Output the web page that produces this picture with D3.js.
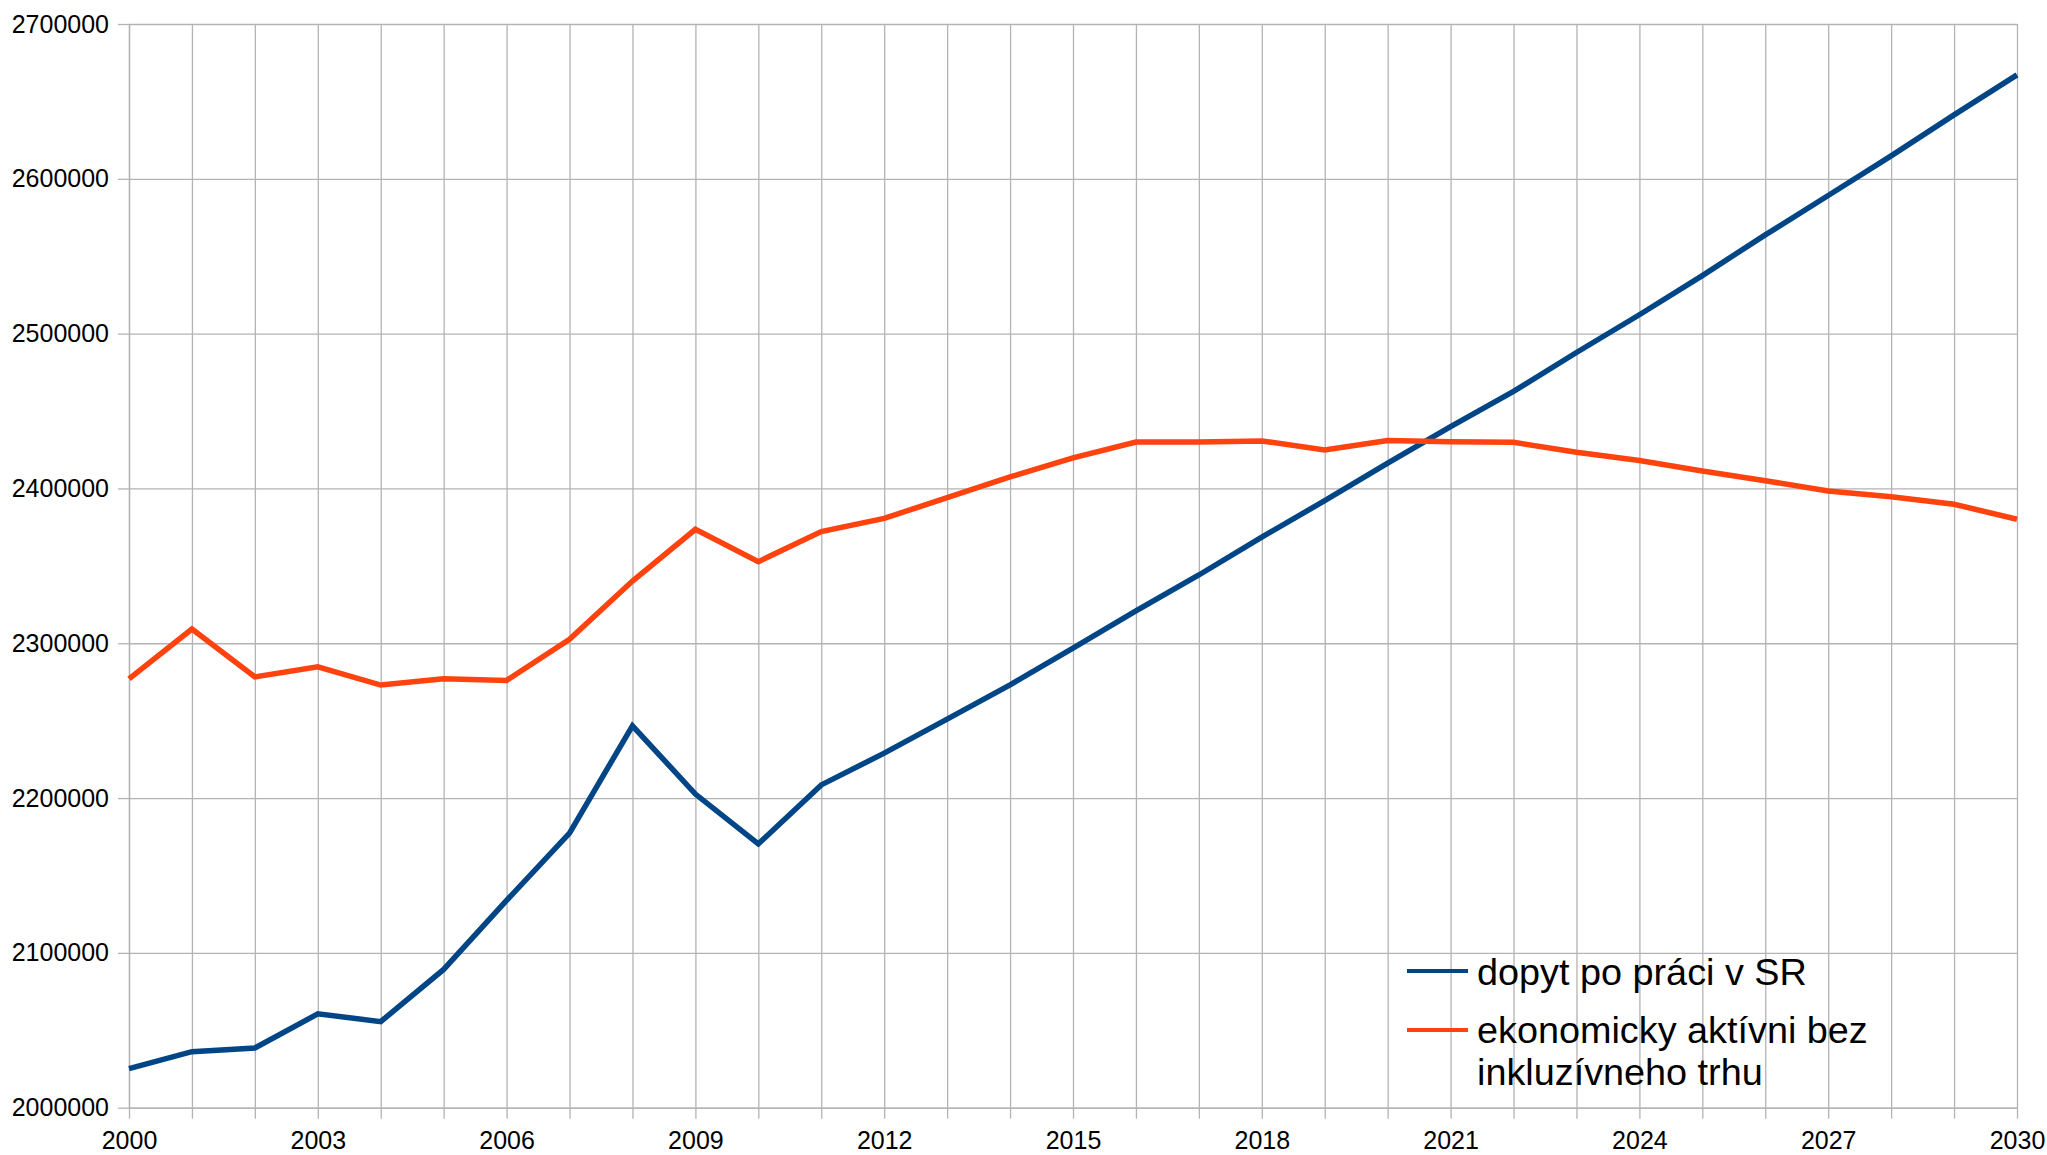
<!DOCTYPE html>
<html>
<head>
<meta charset="utf-8">
<script src="https://cdn.jsdelivr.net/npm/d3@7"></script>
<style>
  html, body { margin: 0; padding: 0; background: #ffffff; }
  svg { display: block; }
  text { font-family: "Liberation Sans", Arial, sans-serif; fill: #000; }
</style>
</head>
<body>
<svg id="chart" width="2047" height="1155"></svg>
<script>
// ---- data ----
const years = [2000, 2001, 2002, 2003, 2004, 2005, 2006, 2007, 2008, 2009, 2010,
               2011, 2012, 2013, 2014, 2015, 2016, 2017, 2018, 2019, 2020,
               2021, 2022, 2023, 2024, 2025, 2026, 2027, 2028, 2029, 2030];
const xTickLabels = [2000, 2003, 2006, 2009, 2012, 2015, 2018, 2021, 2024, 2027, 2030];
const yTicks = [2000000, 2100000, 2200000, 2300000, 2400000, 2500000, 2600000, 2700000];

const seriesNames = ["dopyt po práci v SR", "ekonomicky aktívni bez inkluzívneho trhu"];
const demand = [2025300, 2036200, 2038600, 2060600, 2055600, 2089300, 2133900, 2177400,
                2246700, 2202600, 2170400, 2208500, 2229000, 2251000, 2273100, 2296900,
                2320900, 2344100, 2368600, 2392100, 2416400, 2439900, 2462700, 2487800,
                2512200, 2537500, 2563800, 2589200, 2614800, 2641300, 2667100];
const active = [2277000, 2309200, 2278300, 2284800, 2273000, 2277000, 2276000, 2302600,
                2340200, 2373600, 2352700, 2372100, 2380700, 2394000, 2407400, 2419700,
                2430000, 2430000, 2430700, 2424900, 2431000, 2430200, 2429800, 2423400,
                2418000, 2411300, 2405000, 2398400, 2394700, 2389800, 2380100];
const colors = ["#004586", "#ff420e"];

(function () {
// ---- layout ----
const svg = d3.select("#chart");
const mLeft = 129, mRight = 2017, mTop = 24, mBottom = 1107.7;
const x = d3.scaleLinear().domain([2000, 2030]).range([mLeft, mRight]);
const y = d3.scaleLinear().domain([2000000, 2700000]).range([mBottom, mTop]);
const gridColor = "#b3b3b3";
const fontFam = '"Liberation Sans", Arial, sans-serif';

// vertical grid
svg.append("g")
  .attr("transform", `translate(0,${mBottom})`)
  .call(d3.axisBottom(x).tickValues(years).tickSize(-(mBottom - mTop)).tickFormat(""))
  .call(g => g.select(".domain").remove())
  .call(g => g.selectAll("line").attr("stroke", gridColor).attr("stroke-width", 1.3));

// horizontal grid
svg.append("g")
  .attr("transform", `translate(${mLeft},0)`)
  .call(d3.axisLeft(y).tickValues(yTicks).tickSize(-(mRight - mLeft)).tickFormat(""))
  .call(g => g.select(".domain").remove())
  .call(g => g.selectAll("line").attr("stroke", gridColor).attr("stroke-width", 1.3));

// x axis
svg.append("g")
  .attr("transform", `translate(0,${mBottom})`)
  .call(d3.axisBottom(x).tickValues(years).tickSizeInner(11).tickSizeOuter(0).tickPadding(13)
        .tickFormat(d => xTickLabels.includes(d) ? String(d) : ""))
  .call(g => g.select(".domain").attr("stroke", gridColor).attr("stroke-width", 1.3))
  .call(g => g.selectAll("line").attr("stroke", gridColor).attr("stroke-width", 1.3))
  .call(g => g.selectAll("text").attr("font-size", 25).attr("fill", "#000")
        .style("font-family", fontFam));

// y axis
svg.append("g")
  .attr("transform", `translate(${mLeft},0)`)
  .call(d3.axisLeft(y).tickValues(yTicks).tickSizeInner(11).tickSizeOuter(0).tickPadding(9)
        .tickFormat(d => String(d)))
  .call(g => g.select(".domain").attr("stroke", gridColor).attr("stroke-width", 1.3))
  .call(g => g.selectAll("line").attr("stroke", gridColor).attr("stroke-width", 1.3))
  .call(g => g.selectAll("text").attr("font-size", 25).attr("fill", "#000")
        .style("font-family", fontFam));

// lines
const line = d3.line().x((d, i) => x(years[i])).y(d => y(d));
[demand, active].forEach((s, k) => {
  svg.append("path")
    .datum(s)
    .attr("d", line)
    .attr("fill", "none")
    .attr("stroke", colors[k])
    .attr("stroke-width", 5.5)
    .attr("stroke-linejoin", "miter");
});

// legend
const lg = svg.append("g");
const legendItems = [
  { lineY: 971, lines: ["dopyt po práci v SR"], baselines: [985] },
  { lineY: 1030, lines: ["ekonomicky aktívni bez", "inkluzívneho trhu"], baselines: [1043, 1085] }
];
legendItems.forEach((it, k) => {
  lg.append("line")
    .attr("x1", 1407).attr("x2", 1468)
    .attr("y1", it.lineY).attr("y2", it.lineY)
    .attr("stroke", colors[k]).attr("stroke-width", 4);
  it.lines.forEach((t, j) => {
    lg.append("text")
      .attr("x", 1477).attr("y", it.baselines[j])
      .attr("font-size", 37.8)
      .style("font-family", fontFam)
      .text(t);
  });
});
})();
</script>
</body>
</html>
